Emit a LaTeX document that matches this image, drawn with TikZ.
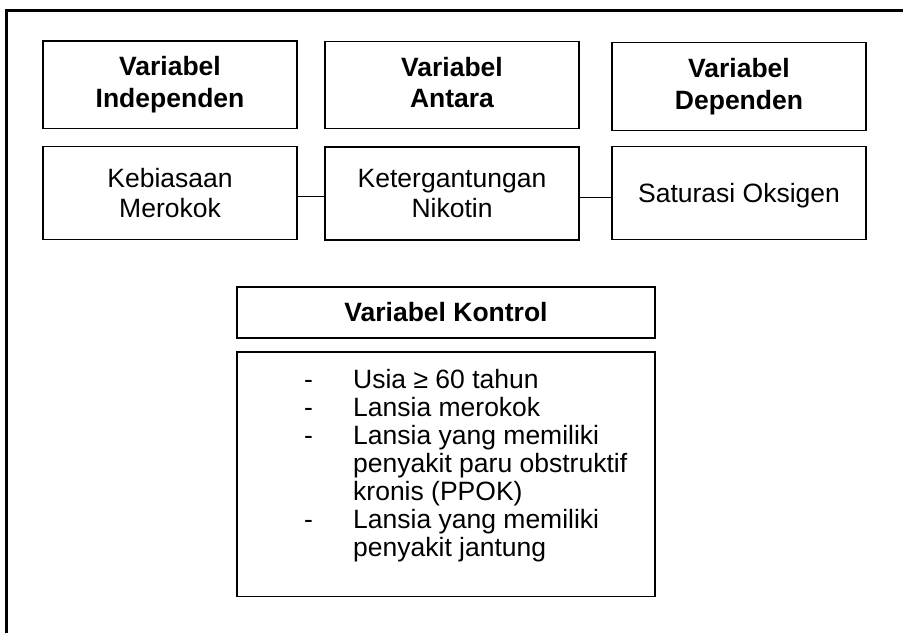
\documentclass[tikz,border=0pt]{standalone}
\usepackage{fontspec}
\setmainfont{Liberation Sans}
\begin{document}
\begin{tikzpicture}[x=1pt,y=-1pt,
  box/.style={draw=black,line width=1.2pt,inner sep=0pt,minimum width=254pt,align=center},
  headbox/.style={box,minimum height=87.5pt,font=\fontsize{26.5}{31.7}\selectfont\bfseries},
  varbox/.style={box,minimum height=93pt,font=\fontsize{26.5}{30}\selectfont},
  ctrlbox/.style={draw=black,line width=1.2pt,inner sep=0pt,minimum width=418pt},
  link/.style={draw=black,line width=1.2pt}]
\useasboundingbox (0,0) rectangle (903,633);
\fill[white] (0,0) rectangle (903,633);
% outer frame (only top and left edges visible)
\draw[line width=3pt,line join=miter] (6.5,633) -- (6.5,10.8) -- (903,10.8);
% header row
\node[headbox] (hind) at (170,84.75) {Variabel\\Independen};
\node[headbox] (hant) at (452,85) {Variabel\\Antara\vphantom{p}};
\node[headbox] (hdep) at (739,86.5) {Variabel\\Dependen};
% variable row
\node[varbox] (vind) at (170,193) {Kebiasaan\\Merokok};
\node[varbox] (vant) at (452,193.5) {Ketergantungan\\Nikotin};
\node[varbox,text depth=0pt] (vdep) at (739,193) {Saturasi Oksigen};
\draw[link] ([yshift=-3.7pt]vind.east) -- ([yshift=-3.7pt]vind.east -| vant.west);
\draw[link] ([yshift=-3.7pt]vant.east -| vant.east) -- ([yshift=-3.7pt]vant.east -| vdep.west);
% control variables
\node[ctrlbox,minimum height=51pt,font=\fontsize{26.5}{31.7}\selectfont\bfseries] (hctrl) at (446,312.5) {Variabel Kontrol};
\node[ctrlbox,minimum height=244.7pt] (ctrl) at (446,474.3) {};
\node[anchor=base west,inner sep=0pt] (ctrllist) at (303.8,388.3) {%
\begin{minipage}[t]{360pt}\fontsize{26.5}{28.1}\selectfont\parindent0pt\parskip0pt
\hangindent=49.2pt\hangafter=1 \makebox[49.2pt][l]{-}Usia ≥ 60 tahun\par
\hangindent=49.2pt\hangafter=1 \makebox[49.2pt][l]{-}Lansia merokok\par
\hangindent=49.2pt\hangafter=1 \makebox[49.2pt][l]{-}Lansia yang memiliki\\penyakit paru obstruktif\\kronis (PPOK)\par
\hangindent=49.2pt\hangafter=1 \makebox[49.2pt][l]{-}Lansia yang memiliki\\penyakit jantung\par
\end{minipage}};
\end{tikzpicture}
\end{document}
